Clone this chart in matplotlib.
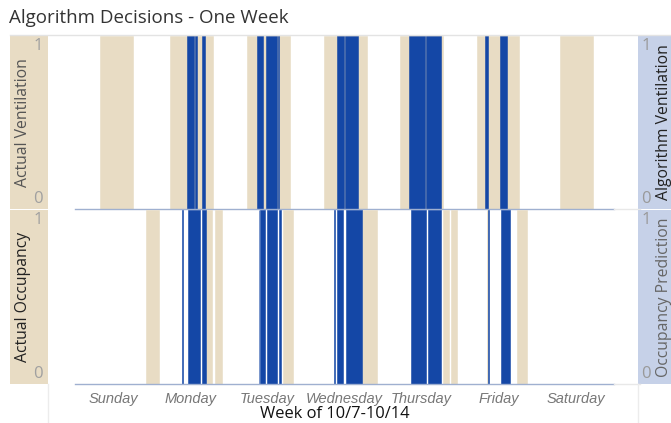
"""Algorithm decisions over one week: actual vs. algorithm ventilation/occupancy."""

import matplotlib
matplotlib.use("Agg")
import matplotlib.pyplot as plt

# hours since Sunday 00:00 (start, end)
actual_vent = [(7.7, 18.1), (29.6, 43.0), (53.6, 67.0), (77.5, 90.9),
               (101.3, 114.6), (125.2, 138.5), (151.2, 161.4)]
algo_vent = [(34.8, 37.0), (37.3, 38.0), (39.5, 40.6),
             (56.8, 58.6), (59.4, 63.1), (63.3, 63.5),
             (81.6, 83.8), (84.1, 88.1),
             (104.2, 109.1), (109.4, 114.1),
             (127.9, 128.8), (132.4, 134.7)]
actual_occ = [(22.1, 26.3), (40.7, 42.8), (43.6, 45.7), (64.7, 67.9),
              (89.5, 94.0), (114.8, 116.6), (117.2, 119.0), (128.3, 128.6),
              (137.8, 140.9)]
pred_occ = [(33.3, 33.6), (35.1, 39.0), (39.5, 40.7),
            (57.3, 57.5), (57.6, 59.2), (59.9, 63.0), (63.5, 64.1),
            (80.9, 81.2), (81.8, 83.6), (84.4, 89.5),
            (104.6, 109.3), (109.9, 114.1),
            (128.6, 129.1), (132.8, 135.6)]
days = ["Sunday", "Monday", "Tuesday", "Wednesday", "Thursday", "Friday", "Saturday"]

TAN = "#e8dcc4"
BLUE = "#1447a6"
STRIP_BLUE = "#c6d1e8"
FONT = "Open Sans"
W, H = 671, 423


def px_axes(fig, x0, y0, x1, y1, **kw):
    # pixel box (top-left origin) -> figure axes
    return fig.add_axes([x0 / W, 1 - y1 / H, (x1 - x0) / W, (y1 - y0) / H], **kw)


def bars(ax, spans, color):
    starts = [s for s, e in spans]
    widths = [e - s for s, e in spans]
    ax.bar(starts, [1] * len(spans), width=widths, align="edge",
           color=color, edgecolor=color, linewidth=0.4)


fig = plt.figure(figsize=(W / 100, H / 100), dpi=100)
fig.text(9 / W, 1 - 18 / H, "Algorithm Decisions - One Week", fontsize=13.5,
         family=FONT, color="#333333", va="center", ha="left")

panels = [
    (36, 209, actual_vent, algo_vent, "Actual Ventilation", "#555555",
     "Algorithm Ventilation", "#222222"),
    (210, 384, actual_occ, pred_occ, "Actual Occupancy", "#222222",
     "Occupancy Prediction", "#666666"),
]

for y0, y1, tan_spans, blue_spans, llab, lcol, rlab, rcol in panels:
    # side strips
    ls = px_axes(fig, 10, y0, 48, y1)
    ls.set_axis_off()
    ls.add_patch(plt.Rectangle((0, 0), 1, 1, color=TAN, transform=ls.transAxes))
    ls.text(0.87, 0.94, "1", ha="right", va="center", fontsize=12, color="#a0a0a0",
            family=FONT, transform=ls.transAxes)
    ls.text(0.87, 0.06, "0", ha="right", va="center", fontsize=12, color="#a0a0a0",
            family=FONT, transform=ls.transAxes)
    ls.text(0.34, 0.5, llab, rotation=90, ha="center", va="center", fontsize=11.3,
            color=lcol, family=FONT, transform=ls.transAxes)

    rs = px_axes(fig, 638, y0, 671, y1)
    rs.set_axis_off()
    rs.add_patch(plt.Rectangle((0, 0), 1, 1, color=STRIP_BLUE, transform=rs.transAxes))
    rs.text(0.25, 0.94, "1", ha="center", va="center", fontsize=12, color="#999999",
            family=FONT, transform=rs.transAxes)
    rs.text(0.25, 0.06, "0", ha="center", va="center", fontsize=12, color="#999999",
            family=FONT, transform=rs.transAxes)
    rs.text(0.8, 0.5, rlab, rotation=90, ha="center", va="center", fontsize=11.3,
            color=rcol, family=FONT, transform=rs.transAxes)

    ax = px_axes(fig, 48, y0, 638, y1)
    bars(ax, tan_spans, TAN)
    bars(ax, blue_spans, BLUE)
    ax.plot([0, 168], [0, 0], color="#9fb0d0", linewidth=1.0, clip_on=False)
    ax.plot([168, 176], [0, 0], color="#e8e8e8", linewidth=1.0, clip_on=False)
    ax.set_xlim(-8.4, 175.5)
    ax.set_ylim(0, 1)
    ax.set_axis_off()

# light separators
fig.add_artist(plt.Line2D([10 / W, 1], [1 - 35 / H] * 2, color="#e3e3e3", linewidth=1))
fig.add_artist(plt.Line2D([48 / W] * 2, [0, 1 - 384 / H], color="#ececec", linewidth=1))
fig.add_artist(plt.Line2D([638 / W] * 2, [0, 1 - 384 / H], color="#ececec", linewidth=1))

# day labels
xa = px_axes(fig, 48, 384, 638, 423)
xa.set_xlim(-8.4, 175.5)
xa.set_ylim(0, 1)
xa.set_axis_off()
for i, d in enumerate(days):
    xa.text(24 * i + 12, 0.62, d, ha="center", va="center", fontsize=10.5,
            style="italic", color="#777777", family="Liberation Sans")
fig.text(335 / W, 1 - 414 / H, "Week of 10/7-10/14", ha="center", va="center",
         fontsize=11.9, color="#111111", family=FONT)

plt.savefig("out.png", dpi=100)
